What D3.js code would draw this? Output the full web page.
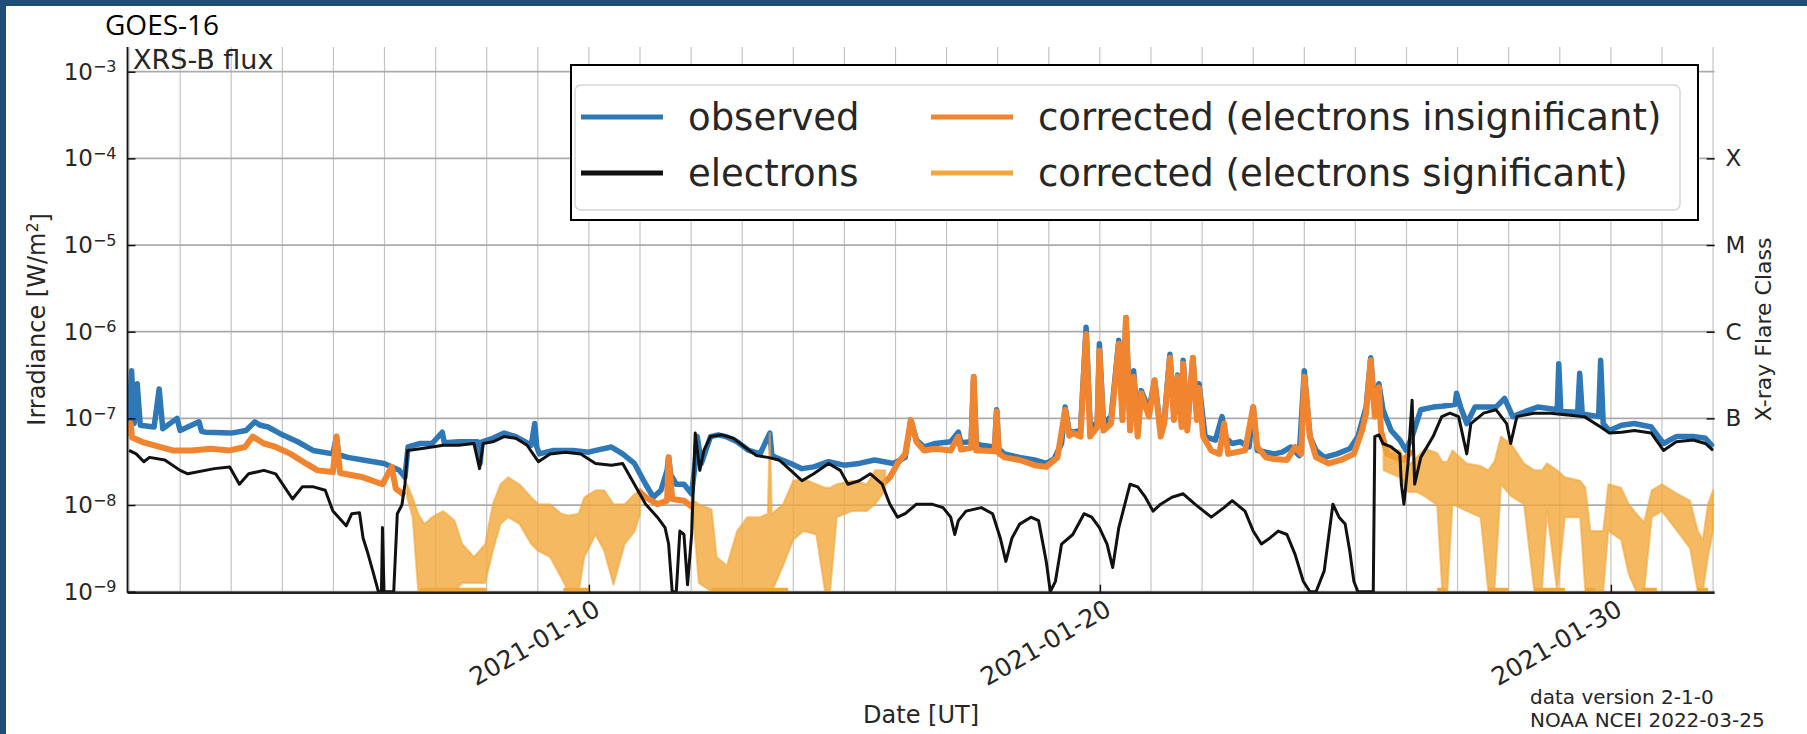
<!DOCTYPE html>
<html>
<head>
<meta charset="utf-8">
<script src="https://cdn.jsdelivr.net/npm/d3@7"></script>
<style>
	html, body { margin: 0; padding: 0; background: #1f4e79; }
	svg { display: block; }
	text { font-family: "DejaVu Sans", sans-serif; fill: #262626; }
</style>
</head>
<body>
<svg id="chart" width="1807" height="734"></svg>
<script>
// values are [day since 2021-01-01 00:00 UT, log10(W/m^2)]
var observed = [[0.0,-7.04],[0.05,-6.45],[0.1,-7.06],[0.16,-6.6],[0.22,-7.08],[0.49,-7.1],[0.59,-6.66],[0.66,-7.12],[0.94,-7.0],[1.0,-7.14],[1.37,-7.04],[1.42,-7.15],[1.5,-7.16],[2.0,-7.17],[2.29,-7.14],[2.46,-7.04],[2.57,-7.08],[2.72,-7.1],[3.0,-7.19],[3.3,-7.27],[3.6,-7.37],[3.99,-7.41],[4.06,-7.21],[4.1,-7.42],[4.28,-7.45],[4.58,-7.48],[4.99,-7.52],[5.29,-7.6],[5.4,-7.68],[5.46,-7.33],[5.7,-7.29],[5.93,-7.29],[6.13,-7.16],[6.17,-7.28],[6.45,-7.27],[6.82,-7.27],[6.87,-7.52],[6.91,-7.27],[7.12,-7.23],[7.34,-7.17],[7.57,-7.21],[7.87,-7.31],[7.94,-7.06],[7.98,-7.33],[8.03,-7.41],[8.31,-7.37],[8.69,-7.37],[8.99,-7.39],[9.2,-7.36],[9.44,-7.33],[9.66,-7.41],[9.89,-7.52],[10.11,-7.76],[10.26,-7.91],[10.41,-7.83],[10.53,-7.6],[10.56,-7.45],[10.6,-7.65],[10.71,-7.76],[10.86,-7.76],[11.01,-7.87],[11.08,-7.52],[11.12,-7.21],[11.2,-7.52],[11.38,-7.21],[11.53,-7.19],[11.68,-7.21],[11.9,-7.27],[12.13,-7.37],[12.35,-7.41],[12.54,-7.17],[12.58,-7.42],[12.65,-7.45],[12.95,-7.52],[13.17,-7.58],[13.4,-7.56],[13.69,-7.5],[13.99,-7.54],[14.29,-7.52],[14.59,-7.48],[14.96,-7.52],[15.19,-7.45],[15.3,-7.02],[15.41,-7.25],[15.56,-7.33],[15.78,-7.29],[16.08,-7.27],[16.23,-7.16],[16.28,-7.28],[16.48,-7.27],[16.53,-6.52],[16.58,-7.29],[16.68,-7.31],[16.94,-7.33],[16.98,-6.9],[17.02,-7.35],[17.13,-7.41],[17.43,-7.45],[17.72,-7.48],[17.95,-7.52],[18.1,-7.47],[18.25,-7.29],[18.32,-6.87],[18.4,-7.15],[18.47,-7.16],[18.62,-7.14],[18.73,-5.95],[18.81,-7.1],[18.95,-7.05],[18.99,-6.14],[19.07,-7.06],[19.22,-6.98],[19.37,-6.1],[19.44,-6.95],[19.51,-5.84],[19.59,-7.06],[19.66,-6.45],[19.74,-7.1],[19.81,-6.68],[19.96,-6.9],[20.07,-6.56],[20.19,-7.14],[20.26,-7.02],[20.37,-6.26],[20.45,-6.98],[20.52,-6.5],[20.6,-7.06],[20.63,-6.33],[20.71,-7.1],[20.82,-6.3],[20.9,-7.0],[20.94,-6.6],[21.06,-7.21],[21.26,-7.25],[21.39,-6.98],[21.47,-7.23],[21.59,-7.29],[21.75,-7.27],[21.92,-7.33],[22.0,-6.87],[22.08,-7.37],[22.25,-7.39],[22.41,-7.41],[22.57,-7.39],[22.74,-7.33],[22.9,-7.43],[23.0,-6.45],[23.11,-7.21],[23.23,-7.37],[23.39,-7.45],[23.64,-7.41],[23.89,-7.35],[24.05,-7.21],[24.21,-6.87],[24.3,-6.3],[24.38,-6.9],[24.46,-6.6],[24.54,-6.9],[24.7,-7.14],[24.87,-7.25],[24.99,-7.37],[25.11,-7.21],[25.28,-6.9],[25.52,-6.87],[25.69,-6.86],[25.95,-6.84],[25.98,-6.71],[26.06,-6.87],[26.18,-7.06],[26.34,-6.87],[26.75,-6.87],[26.92,-6.77],[27.08,-6.98],[27.33,-6.92],[27.57,-6.87],[27.82,-6.89],[27.95,-6.9],[27.98,-6.37],[28.02,-6.92],[28.35,-6.93],[28.39,-6.48],[28.44,-6.95],[28.76,-6.98],[28.8,-6.33],[28.85,-7.06],[28.97,-7.14],[29.21,-7.08],[29.46,-7.06],[29.79,-7.1],[30.03,-7.29],[30.28,-7.21],[30.61,-7.21],[30.85,-7.23],[31.0,-7.33]];

var electrons = [[0.0,-7.37],[0.14,-7.41],[0.29,-7.5],[0.4,-7.45],[0.7,-7.48],[1.0,-7.6],[1.15,-7.64],[1.67,-7.58],[1.97,-7.56],[2.16,-7.76],[2.34,-7.64],[2.64,-7.6],[2.87,-7.64],[3.2,-7.93],[3.39,-7.79],[3.61,-7.79],[3.84,-7.83],[3.99,-8.07],[4.25,-8.24],[4.36,-8.1],[4.51,-8.09],[4.58,-8.38],[4.66,-8.53],[4.77,-8.76],[4.88,-9.0],[4.94,-9.0],[4.96,-8.26],[4.99,-9.0],[5.18,-9.0],[5.25,-8.1],[5.34,-8.0],[5.4,-7.76],[5.45,-7.37],[5.7,-7.35],[5.93,-7.33],[6.15,-7.31],[6.45,-7.31],[6.75,-7.29],[6.86,-7.58],[6.93,-7.29],[7.12,-7.27],[7.34,-7.21],[7.57,-7.23],[7.79,-7.31],[8.01,-7.5],[8.24,-7.41],[8.54,-7.39],[8.84,-7.41],[9.13,-7.52],[9.44,-7.54],[9.66,-7.52],[9.89,-7.76],[10.11,-7.99],[10.34,-8.14],[10.49,-8.26],[10.56,-8.45],[10.63,-9.0],[10.71,-9.0],[10.78,-8.3],[10.86,-8.34],[10.93,-8.92],[11.01,-8.34],[11.08,-7.17],[11.17,-7.6],[11.25,-7.37],[11.38,-7.21],[11.6,-7.19],[11.83,-7.23],[12.05,-7.33],[12.28,-7.43],[12.5,-7.45],[12.72,-7.48],[12.95,-7.6],[13.17,-7.72],[13.4,-7.64],[13.69,-7.52],[13.92,-7.6],[14.07,-7.76],[14.29,-7.72],[14.51,-7.64],[14.74,-7.76],[14.89,-7.99],[15.04,-8.14],[15.19,-8.1],[15.41,-7.99],[15.71,-7.99],[15.93,-8.03],[16.08,-8.14],[16.16,-8.34],[16.23,-8.18],[16.38,-8.07],[16.68,-8.03],[16.9,-8.1],[17.05,-8.38],[17.16,-8.65],[17.28,-8.38],[17.43,-8.22],[17.65,-8.14],[17.8,-8.18],[17.95,-8.65],[18.03,-9.0],[18.13,-8.88],[18.25,-8.45],[18.47,-8.34],[18.69,-8.1],[18.84,-8.14],[18.99,-8.26],[19.14,-8.45],[19.25,-8.72],[19.37,-8.26],[19.59,-7.76],[19.74,-7.79],[19.89,-7.91],[20.04,-8.07],[20.19,-7.99],[20.41,-7.91],[20.63,-7.87],[20.86,-7.99],[21.18,-8.14],[21.43,-8.03],[21.59,-7.95],[21.84,-8.07],[22.0,-8.3],[22.16,-8.45],[22.33,-8.38],[22.49,-8.3],[22.66,-8.34],[22.82,-8.57],[22.98,-8.88],[23.11,-9.0],[23.23,-9.0],[23.39,-8.76],[23.56,-7.99],[23.68,-8.14],[23.8,-8.22],[23.89,-8.53],[23.97,-8.88],[24.05,-9.0],[24.35,-9.0],[24.38,-7.21],[24.46,-7.19],[24.54,-7.29],[24.7,-7.33],[24.87,-7.41],[24.9,-7.76],[24.95,-7.99],[25.03,-7.52],[25.11,-6.79],[25.16,-7.76],[25.28,-7.45],[25.52,-7.21],[25.69,-6.98],[25.85,-6.94],[26.02,-6.98],[26.18,-7.41],[26.26,-7.06],[26.51,-6.94],[26.75,-6.9],[26.96,-7.06],[27.04,-7.29],[27.16,-6.98],[27.49,-6.94],[27.82,-6.94],[28.15,-6.96],[28.48,-6.98],[28.8,-7.1],[28.97,-7.17],[29.21,-7.16],[29.46,-7.14],[29.79,-7.17],[30.03,-7.37],[30.28,-7.27],[30.61,-7.25],[30.85,-7.29],[31.0,-7.37]];

// corrected flux where electrons are insignificant, three stretches
var insigA = [[0.0,-7.21],[0.03,-7.06],[0.06,-7.22],[0.25,-7.27],[0.48,-7.31],[0.85,-7.37],[1.22,-7.37],[1.6,-7.35],[1.97,-7.37],[2.27,-7.33],[2.42,-7.21],[2.64,-7.29],[2.87,-7.33],[3.16,-7.41],[3.46,-7.52],[3.69,-7.6],[3.99,-7.62],[4.06,-7.21],[4.13,-7.63],[4.58,-7.68],[4.96,-7.76],[5.14,-7.56],[5.22,-7.81],[5.4,-7.89]];
var insigB = [[9.96,-7.83],[10.11,-7.91],[10.34,-7.99],[10.53,-7.95],[10.56,-7.45],[10.63,-7.93],[10.86,-7.95],[11.04,-8.03]];
var insigC = [[14.74,-7.76],[14.89,-7.68],[15.04,-7.52],[15.19,-7.41],[15.3,-7.02],[15.41,-7.27],[15.56,-7.37],[15.78,-7.35],[16.08,-7.37],[16.23,-7.21],[16.28,-7.36],[16.48,-7.34],[16.53,-6.52],[16.58,-7.37],[16.68,-7.37],[16.94,-7.38],[16.98,-6.92],[17.02,-7.4],[17.13,-7.45],[17.43,-7.48],[17.72,-7.54],[17.95,-7.56],[18.17,-7.45],[18.32,-6.9],[18.4,-7.2],[18.47,-7.17],[18.62,-7.21],[18.73,-6.03],[18.81,-7.21],[18.95,-7.1],[18.99,-6.22],[19.07,-7.14],[19.22,-7.06],[19.37,-6.14],[19.44,-7.02],[19.51,-5.84],[19.59,-7.14],[19.66,-6.52],[19.74,-7.21],[19.81,-6.71],[19.96,-6.98],[20.07,-6.56],[20.19,-7.21],[20.26,-7.06],[20.37,-6.3],[20.45,-7.02],[20.52,-6.52],[20.6,-7.1],[20.63,-6.37],[20.71,-7.14],[20.82,-6.3],[20.9,-7.02],[20.94,-6.65],[21.02,-7.21],[21.18,-7.37],[21.34,-7.41],[21.43,-7.06],[21.51,-7.41],[21.84,-7.37],[22.0,-6.87],[22.08,-7.33],[22.25,-7.45],[22.41,-7.47],[22.66,-7.48],[22.82,-7.33],[22.94,-7.41],[23.0,-6.52],[23.11,-7.21],[23.23,-7.45],[23.48,-7.52],[23.72,-7.48],[23.97,-7.41],[24.13,-7.14],[24.21,-6.94],[24.3,-6.33],[24.38,-6.98],[24.46,-6.64],[24.5,-7.14],[24.62,-7.41],[24.79,-7.45],[24.95,-7.48],[25.11,-7.37]];

// corrected flux where electrons are significant: scattered points, kept as [day, upper, lower]
var sigA = [[5.44,-7.76,-7.91],[5.55,-7.91,-8.14],[5.66,-8.1,-9],[5.78,-8.22,-9],[5.93,-8.14,-9],[6.15,-8.07,-9],[6.37,-8.18,-9],[6.52,-8.45,-8.9],[6.75,-8.6,-8.9],[6.97,-8.45,-8.9],[7.12,-7.99,-8.53],[7.27,-7.76,-8.22],[7.42,-7.68,-8.14],[7.64,-7.76,-8.22],[7.87,-7.91,-8.45],[8.01,-7.99,-8.53],[8.24,-7.99,-8.6],[8.46,-8.1,-8.84],[8.6,-8.12,-9],[8.8,-8.1,-9],[8.91,-7.91,-8.6],[9.13,-7.83,-8.34],[9.3,-7.83,-8.53],[9.48,-7.99,-8.92],[9.7,-7.99,-8.45],[9.9,-7.87,-8.3],[10.0,-7.87,-8.1]];
var sigB = [[11.05,-7.95,-8.2],[11.15,-7.99,-8.9],[11.4,-8.05,-9],[11.5,-8.6,-9],[11.7,-8.7,-9],[11.9,-8.3,-9],[12.1,-8.14,-9],[12.35,-8.14,-9],[12.5,-8.1,-9],[12.54,-7.17,-9],[12.58,-8.1,-9],[12.8,-7.99,-8.7],[13.0,-7.72,-8.4],[13.2,-7.7,-8.3],[13.45,-7.76,-8.34],[13.62,-7.8,-9],[13.72,-7.8,-9],[13.85,-7.76,-8.14],[14.15,-7.72,-8.07],[14.44,-7.76,-8.07],[14.6,-7.6,-7.99],[14.8,-7.6,-7.83]];
var sigC = [[24.55,-7.33,-7.6],[24.87,-7.37,-7.68],[25.03,-7.55,-7.85],[25.2,-7.45,-7.85],[25.36,-7.35,-7.9],[25.6,-7.4,-8.0],[25.7,-7.5,-9],[25.8,-7.5,-9],[25.9,-7.37,-7.99],[26.18,-7.52,-8.07],[26.45,-7.55,-8.14],[26.6,-7.6,-9],[26.72,-7.5,-9],[26.85,-7.21,-7.76],[27.05,-7.3,-7.9],[27.3,-7.52,-7.99],[27.5,-7.6,-9],[27.65,-7.6,-9],[27.75,-7.52,-8.07],[27.95,-7.6,-9],[28.1,-7.68,-8.14],[28.4,-7.72,-8.14],[28.5,-7.8,-9],[28.6,-8.3,-9],[28.85,-8.3,-9],[28.95,-7.76,-8.3],[29.2,-7.8,-8.4],[29.35,-7.99,-8.8],[29.5,-8.1,-9],[29.65,-8.2,-9],[29.8,-7.83,-8.14],[30.0,-7.76,-8.07],[30.3,-7.87,-8.3],[30.55,-7.95,-8.5],[30.7,-8.3,-9],[30.8,-8.4,-9],[30.9,-7.99,-8.6],[31.0,-7.83,-8.3]];
// stretches where those points pile up on the 1e-9 floor
var sigFloor = [[5.7,7.0],[8.5,9.0],[11.4,12.9],[25.6,25.8],[26.6,27.0],[27.5,28.1],[28.5,28.7],[29.6,29.9],[30.7,30.9]];

var yTickExps = [-9, -8, -7, -6, -5, -4, -3];
var flareClasses = ["B", "C", "M", "X"];
var flareExps = [-7, -6, -5, -4];
var dateTicks = ["2021-01-10", "2021-01-20", "2021-01-30"];
var legendLabels = ["observed", "electrons", "corrected (electrons insignificant)", "corrected (electrons significant)"];
var footer = ["data version 2-1-0", "NOAA NCEI 2022-03-25"];

var colors = {obs: "#2f78b7", ele: "#111111", insig: "#f0842f", sig: "#f2a73b"};

var svg = d3.select("#chart");
var plot = {left: 127.5, right: 1714.6, top: 47, bottom: 591.7};
var t0 = Date.UTC(2021, 0, 1);

function toDate(d) { return new Date(t0 + d * 864e5); }
function flux(v) { return Math.pow(10, v); }

var x = d3.scaleUtc().domain([toDate(-0.03), toDate(31.03)]).range([plot.left, plot.right]);
var y = d3.scaleLog().domain([1e-9, flux(-2.715)]).range([plot.bottom, plot.top]);

// slide background
svg.append("rect").attr("x", 6).attr("y", 6).attr("width", 1807).attr("height", 734).attr("fill", "white");

// grid: one vertical line per day, one horizontal per decade
svg.append("g").selectAll("line")
	.data(d3.utcDay.range(toDate(0), toDate(31.5)))
	.enter().append("line")
	.attr("x1", function(d) { return x(d); })
	.attr("x2", function(d) { return x(d); })
	.attr("y1", plot.top).attr("y2", plot.bottom)
	.attr("stroke", "#c4c4c4").attr("stroke-width", 1.2);

svg.append("g").selectAll("line")
	.data(yTickExps)
	.enter().append("line")
	.attr("x1", plot.left).attr("x2", plot.right)
	.attr("y1", function(d) { return y(flux(d)); })
	.attr("y2", function(d) { return y(flux(d)); })
	.attr("stroke", "#ababab").attr("stroke-width", 1.8);

svg.append("clipPath").attr("id", "clip")
	.append("rect").attr("x", plot.left).attr("y", plot.top)
	.attr("width", plot.right - plot.left).attr("height", plot.bottom - plot.top + 3);

var data = svg.append("g").attr("clip-path", "url(#clip)");

var line = d3.line()
	.x(function(d) { return x(toDate(d[0])); })
	.y(function(d) { return y(flux(d[1])); });

var band = d3.area()
	.x(function(d) { return x(toDate(d[0])); })
	.y0(function(d) { return y(flux(d[2])); })
	.y1(function(d) { return y(flux(d[1])); });

function drawLine(series, color, width) {
	data.append("path")
		.datum(series)
		.attr("d", line)
		.attr("fill", "none")
		.attr("stroke", color)
		.attr("stroke-width", width)
		.attr("stroke-linejoin", "round");
}

drawLine(observed, colors.obs, 5.5);
[insigA, insigB, insigC].forEach(function(s) { drawLine(s, colors.insig, 6); });

[sigA, sigB, sigC].forEach(function(s) {
	data.append("path")
		.datum(s)
		.attr("d", band)
		.attr("fill", colors.sig)
		.attr("fill-opacity", 0.8)
		.attr("stroke", colors.sig)
		.attr("stroke-opacity", 0.6)
		.attr("stroke-width", 2)
		.attr("stroke-linejoin", "round");
});

data.append("g").selectAll("line")
	.data(sigFloor)
	.enter().append("line")
	.attr("x1", function(d) { return x(toDate(d[0])); })
	.attr("x2", function(d) { return x(toDate(d[1])); })
	.attr("y1", y(1e-9) - 2).attr("y2", y(1e-9) - 2)
	.attr("stroke", colors.sig).attr("stroke-width", 4);

drawLine(electrons, colors.ele, 3);

// spines
svg.append("line").attr("x1", plot.left).attr("x2", plot.left)
	.attr("y1", plot.top).attr("y2", plot.bottom + 1)
	.attr("stroke", "#111").attr("stroke-width", 1.8);
svg.append("line").attr("x1", plot.left).attr("x2", plot.right)
	.attr("y1", plot.bottom + 1).attr("y2", plot.bottom + 1)
	.attr("stroke", "#222").attr("stroke-width", 2.6);

// left axis, 10^n labels
var gY = svg.append("g")
	.attr("transform", "translate(" + plot.left + ",0)")
	.call(d3.axisLeft(y).tickValues(yTickExps.map(flux)).tickSize(-8).tickPadding(11).tickFormat(""));
gY.select(".domain").remove();
gY.selectAll(".tick line").attr("stroke", "#111").attr("stroke-width", 1.5);
gY.selectAll(".tick text")
	.attr("font-size", 23).attr("font-family", "DejaVu Sans").attr("fill", "#262626")
	.each(function(d) {
		var e = Math.round(Math.log10(d));
		var t = d3.select(this);
		t.append("tspan").text("10");
		t.append("tspan").attr("dy", "-0.45em").attr("font-size", 16).text("\u2212" + Math.abs(e));
	});

// right axis, flare classes
var gR = svg.append("g")
	.attr("transform", "translate(" + plot.right + ",0)")
	.call(d3.axisRight(y).tickValues(flareExps.map(flux)).tickSize(-8).tickPadding(11)
		.tickFormat(function(d, i) { return flareClasses[i]; }));
gR.select(".domain").remove();
gR.selectAll(".tick line").attr("stroke", "#111").attr("stroke-width", 1.5);
gR.selectAll(".tick text").attr("font-size", 23).attr("font-family", "DejaVu Sans").attr("fill", "#262626");

// bottom axis, rotated dates
var gX = svg.append("g")
	.attr("transform", "translate(0," + (plot.bottom + 1) + ")")
	.call(d3.axisBottom(x).tickValues(dateTicks.map(function(s) { return new Date(s + "T00:00:00Z"); }))
		.tickSize(-8).tickFormat(d3.utcFormat("%Y-%m-%d")));
gX.select(".domain").remove();
gX.selectAll(".tick line").attr("stroke", "#111").attr("stroke-width", 1.5);
gX.selectAll(".tick text")
	.attr("font-size", 25).attr("font-family", "DejaVu Sans").attr("fill", "#262626")
	.attr("text-anchor", "end")
	.attr("x", 0).attr("y", 0).attr("dy", "0.75em")
	.attr("transform", "translate(3,5) rotate(-30)");

// axis titles
svg.append("text")
	.attr("transform", "translate(37," + ((plot.top + plot.bottom) / 2) + ") rotate(-90)")
	.attr("text-anchor", "middle").attr("dy", "0.35em").attr("font-size", 24)
	.call(function(t) {
		t.append("tspan").text("Irradiance [W/m");
		t.append("tspan").attr("dy", "-0.45em").attr("font-size", 16).text("2");
		t.append("tspan").attr("dy", "0.45em").text("]");
	});

svg.append("text")
	.attr("x", (plot.left + plot.right) / 2).attr("y", 723)
	.attr("text-anchor", "middle").attr("font-size", 24)
	.text("Date [UT]");

svg.append("text")
	.attr("transform", "translate(1763," + ((plot.top + plot.bottom) / 2 + 10) + ") rotate(-90)")
	.attr("text-anchor", "middle").attr("dy", "0.35em").attr("font-size", 22)
	.text("X-ray Flare Class");

svg.append("text").attr("x", 133).attr("y", 69).attr("font-size", 27).text("XRS-B flux");

svg.append("text").attr("x", 105).attr("y", 35)
	.style("font-family", "'Open Sans', sans-serif").style("fill", "#000")
	.attr("font-size", 28).text("GOES-16");

svg.append("g").selectAll("text")
	.data(footer)
	.enter().append("text")
	.attr("x", 1530).attr("y", function(d, i) { return 704 + i * 23; })
	.attr("font-size", 20)
	.text(function(d) { return d; });

// legend: slide box around the matplotlib legend frame
var lg = svg.append("g");
lg.append("rect").attr("x", 571).attr("y", 65).attr("width", 1127).attr("height", 155)
	.attr("fill", "white").attr("stroke", "#000").attr("stroke-width", 2);
lg.append("rect").attr("x", 575).attr("y", 85).attr("width", 1105).attr("height", 125)
	.attr("rx", 6).attr("fill", "white").attr("stroke", "#d6d6d6").attr("stroke-width", 1.5);

var legendColors = [colors.obs, colors.ele, colors.insig, colors.sig];
var item = lg.selectAll(".item")
	.data(legendLabels)
	.enter().append("g")
	.attr("class", "item")
	.attr("transform", function(d, i) {
		var col = Math.floor(i / 2), row = i % 2;
		return "translate(" + (581 + col * 350) + "," + (117 + row * 56) + ")";
	});
item.append("line").attr("x1", 0).attr("x2", 82).attr("y1", 0).attr("y2", 0)
	.attr("stroke", function(d, i) { return legendColors[i]; }).attr("stroke-width", 5);
item.append("text").attr("x", 107).attr("dy", "0.36em").attr("font-size", 37)
	.text(function(d) { return d; });
</script>
</body>
</html>
